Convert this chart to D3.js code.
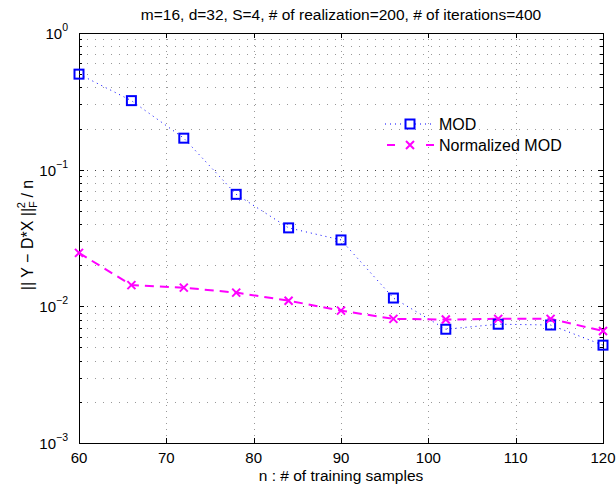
<!DOCTYPE html>
<html>
<head>
<meta charset="utf-8">
<script src="https://cdn.jsdelivr.net/npm/d3@7"></script>
<style>
  body { margin: 0; background: #fff; }
  text { font-family: "Liberation Sans", Arial, sans-serif; fill: #000; }
</style>
</head>
<body>
<div id="chart"></div>
<script>
// data
var nSamples = [60, 66, 72, 78, 84, 90, 96, 102, 108, 114, 120];
var modErr = [0.50, 0.32, 0.17, 0.066, 0.0375, 0.0306, 0.0115, 0.0068, 0.0074, 0.0073, 0.0052];
var normModErr = [0.0246, 0.0143, 0.0137, 0.0126, 0.0110, 0.0093, 0.0081, 0.0080, 0.0081, 0.0081, 0.0066];
var xTicks = [60, 70, 80, 90, 100, 110, 120];
var yDecades = [-3, -2, -1, 0];
var seriesNames = ["MOD", "Normalized MOD"];

var W = 616, H = 485;
// plot box (note: "top" is reserved on window, so use p-prefixed names)
var pLeft = 79, pRight = 603, pTop = 33, pBottom = 443;

var svg = d3.select("#chart").append("svg")
    .attr("width", W)
    .attr("height", H);

var x = d3.scaleLinear().domain([60, 120]).range([pLeft, pRight]);
var y = d3.scaleLog().domain([1e-3, 1]).range([pBottom, pTop]);

// minor log values
var minorVals = [];
for (var k = -3; k < 0; k++) {
  for (var m = 2; m <= 9; m++) minorVals.push(m * Math.pow(10, k));
}
var majorVals = yDecades.map(function(e) { return Math.pow(10, e); });

var grid = svg.append("g").attr("class", "grid");

// vertical grid
grid.selectAll("line.vx")
  .data(xTicks.slice(1, -1))
  .enter()
    .append("line")
    .attr("x1", function(d) { return Math.round(x(d)) + 0.5; })
    .attr("x2", function(d) { return Math.round(x(d)) + 0.5; })
    .attr("y1", pTop)
    .attr("y2", pBottom)
    .attr("stroke", "#999")
    .attr("stroke-width", 1)
    .attr("stroke-dasharray", "1,5");

// horizontal grid, majors and minors
grid.selectAll("line.hy")
  .data(minorVals.concat(majorVals.slice(1, -1)))
  .enter()
    .append("line")
    .attr("x1", pLeft)
    .attr("x2", pRight)
    .attr("y1", function(d) { return Math.round(y(d)) + 0.5; })
    .attr("y2", function(d) { return Math.round(y(d)) + 0.5; })
    .attr("stroke", function(d) { return majorVals.indexOf(d) >= 0 ? "#444" : "#999"; })
    .attr("stroke-width", 1)
    .attr("stroke-dasharray", "1,7");

// axes box
svg.append("rect")
  .attr("x", pLeft + 0.5)
  .attr("y", pTop + 0.5)
  .attr("width", pRight - pLeft)
  .attr("height", pBottom - pTop)
  .attr("fill", "none")
  .attr("stroke", "#000")
  .attr("stroke-width", 1);

// x ticks (inside, top & bottom)
var xt = svg.append("g");
xTicks.forEach(function(d) {
  var xx = Math.round(x(d)) + 0.5;
  xt.append("line").attr("x1", xx).attr("x2", xx).attr("y1", pBottom).attr("y2", pBottom - 5).attr("stroke", "#000");
  xt.append("line").attr("x1", xx).attr("x2", xx).attr("y1", pTop).attr("y2", pTop + 5).attr("stroke", "#000");
  xt.append("text")
    .attr("x", x(d))
    .attr("y", pBottom + 20)
    .attr("text-anchor", "middle")
    .attr("font-size", 15)
    .text(d);
});

// y ticks, both sides
var yt = svg.append("g");
majorVals.forEach(function(d) {
  var yy = Math.round(y(d)) + 0.5;
  yt.append("line").attr("x1", pLeft).attr("x2", pLeft + 5).attr("y1", yy).attr("y2", yy).attr("stroke", "#000");
  yt.append("line").attr("x1", pRight).attr("x2", pRight - 5).attr("y1", yy).attr("y2", yy).attr("stroke", "#000");
});
minorVals.forEach(function(d) {
  var yy = Math.round(y(d)) + 0.5;
  yt.append("line").attr("x1", pLeft).attr("x2", pLeft + 3).attr("y1", yy).attr("y2", yy).attr("stroke", "#000");
  yt.append("line").attr("x1", pRight).attr("x2", pRight - 3).attr("y1", yy).attr("y2", yy).attr("stroke", "#000");
});
yDecades.forEach(function(e) {
  var t = yt.append("text")
    .attr("x", pLeft - 11)
    .attr("y", y(Math.pow(10, e)) + 6)
    .attr("text-anchor", "end")
    .attr("font-size", 15);
  t.append("tspan").text("10");
  t.append("tspan")
    .attr("dy", -8)
    .attr("font-size", 10.5)
    .text(e === 0 ? "0" : "\u2212" + (-e));
});

// lines
var modData = nSamples.map(function(n, i) { return [n, modErr[i]]; });
var normData = nSamples.map(function(n, i) { return [n, normModErr[i]]; });

var line = d3.line()
  .x(function(d) { return x(d[0]); })
  .y(function(d) { return y(d[1]); });

svg.append("path")
  .datum(modData)
  .attr("d", line)
  .attr("fill", "none")
  .attr("stroke", "#0000ff")
  .attr("stroke-width", 1)
  .attr("stroke-dasharray", "1,4");

svg.append("path")
  .datum(normData)
  .attr("d", line)
  .attr("fill", "none")
  .attr("stroke", "#ff00ff")
  .attr("stroke-width", 2)
  .attr("stroke-dasharray", "9,6");

// markers
svg.selectAll("rect.mod")
  .data(modData)
  .enter()
    .append("rect")
    .attr("x", function(d) { return x(d[0]) - 4.5; })
    .attr("y", function(d) { return y(d[1]) - 4.5; })
    .attr("width", 9)
    .attr("height", 9)
    .attr("fill", "none")
    .attr("stroke", "#0000ff")
    .attr("stroke-width", 2);

var xmark = "M-4,-4L4,4M-4,4L4,-4";
svg.selectAll("path.norm")
  .data(normData)
  .enter()
    .append("path")
    .attr("d", xmark)
    .attr("transform", function(d) { return "translate(" + x(d[0]) + "," + y(d[1]) + ")"; })
    .attr("fill", "none")
    .attr("stroke", "#ff00ff")
    .attr("stroke-width", 2);

// legend (no box)
var lg = svg.append("g");
var lgY = [124, 145];
// MOD entry
lg.append("line").attr("x1", 385).attr("x2", 432).attr("y1", lgY[0]).attr("y2", lgY[0])
  .attr("stroke", "#0000ff").attr("stroke-width", 1).attr("stroke-dasharray", "1,4");
lg.append("rect").attr("x", 405.5).attr("y", lgY[0] - 4.5).attr("width", 9).attr("height", 9)
  .attr("fill", "#fff").attr("stroke", "#0000ff").attr("stroke-width", 2);
// Normalized entry
lg.append("line").attr("x1", 387).attr("x2", 434).attr("y1", lgY[1]).attr("y2", lgY[1])
  .attr("stroke", "#ff00ff").attr("stroke-width", 2).attr("stroke-dasharray", "8,31");
lg.append("path").attr("d", xmark).attr("transform", "translate(410," + lgY[1] + ")")
  .attr("fill", "none").attr("stroke", "#ff00ff").attr("stroke-width", 2);
lg.selectAll("text")
  .data(seriesNames)
  .enter()
    .append("text")
    .attr("x", 439)
    .attr("y", function(d, i) { return lgY[i] + 6; })
    .attr("font-size", 16)
    .text(function(d) { return d; });

// title
svg.append("text")
  .attr("x", (pLeft + pRight) / 2)
  .attr("y", 20)
  .attr("text-anchor", "middle")
  .attr("font-size", 15.5)
  .text("m=16, d=32, S=4, # of realization=200, # of iterations=400");

// x label
svg.append("text")
  .attr("x", (pLeft + pRight) / 2)
  .attr("y", 481)
  .attr("text-anchor", "middle")
  .attr("font-size", 15.5)
  .text("n : # of training samples");

// y label
var yl = svg.append("text")
  .attr("transform", "translate(33,235) rotate(-90)")
  .attr("text-anchor", "middle")
  .attr("font-size", 16);
yl.append("tspan").text("|| Y \u2212 D*X ||");
yl.append("tspan").attr("font-size", 11).attr("dy", 4).text("F");
yl.append("tspan").attr("font-size", 11).attr("dx", -7).attr("dy", -12).text("2");
yl.append("tspan").attr("dy", 8).text(" / n");
</script>
</body>
</html>
